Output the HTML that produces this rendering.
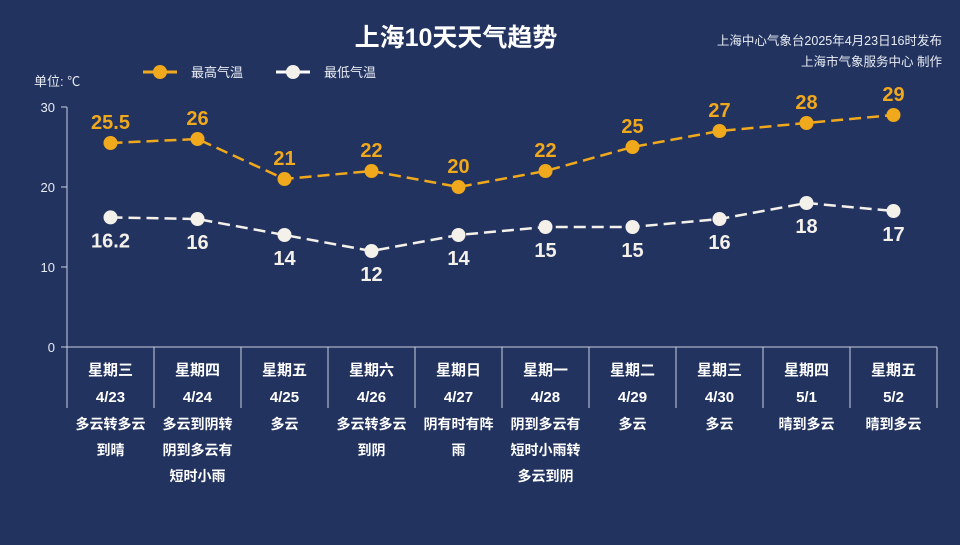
<!DOCTYPE html>
<html><head><meta charset="utf-8">
<style>
body{margin:0;width:960px;height:545px;overflow:hidden;background:#22335f;font-family:"Liberation Sans","Noto Sans CJK SC",sans-serif;}
svg{display:block}
</style></head><body>
<svg id="c" width="960" height="545" xmlns="http://www.w3.org/2000/svg">
<rect width="960" height="545" fill="#22335f"/>
<text x="456" y="46" text-anchor="middle" font-size="25" font-weight="bold" fill="#fff" font-family="Liberation Sans,Noto Sans CJK SC,sans-serif">上海10天天气趋势</text>
<text x="942" y="45" text-anchor="end" font-size="12.5" fill="#e8ecf4" font-family="Liberation Sans,Noto Sans CJK SC,sans-serif">上海中心气象台2025年4月23日16时发布</text>
<text x="942" y="66" text-anchor="end" font-size="12.5" fill="#e8ecf4" font-family="Liberation Sans,Noto Sans CJK SC,sans-serif">上海市气象服务中心 制作</text>
<g>
<line x1="143" y1="72" x2="177" y2="72" stroke="#f0a81c" stroke-width="3"/><circle cx="160" cy="72" r="7" fill="#f0a81c"/>
<text x="191" y="77" font-size="13" fill="#e8ecf4" font-family="Liberation Sans,Noto Sans CJK SC,sans-serif">最高气温</text></g>
<g>
<line x1="276" y1="72" x2="310" y2="72" stroke="#fff" stroke-width="3"/><circle cx="293" cy="72" r="7" fill="#f4f0ea"/>
<text x="324" y="77" font-size="13" fill="#e8ecf4" font-family="Liberation Sans,Noto Sans CJK SC,sans-serif">最低气温</text></g>
<text x="34" y="86" font-size="13" fill="#e8ecf4" font-family="Liberation Sans,Noto Sans CJK SC,sans-serif">单位: ℃</text>
<g id="axes"></g><g id="marks"></g>
</svg>
<script>
const days=["星期三","星期四","星期五","星期六","星期日","星期一","星期二","星期三","星期四","星期五"];
const dates=["4/23","4/24","4/25","4/26","4/27","4/28","4/29","4/30","5/1","5/2"];
const weather=[["多云转多云","到晴"],["多云到阴转","阴到多云有","短时小雨"],["多云"],["多云转多云","到阴"],["阴有时有阵","雨"],["阴到多云有","短时小雨转","多云到阴"],["多云"],["多云"],["晴到多云"],["晴到多云"]];
const highs=[25.5,26,21,22,20,22,25,27,28,29];
const lows=[16.2,16,14,12,14,15,15,16,18,17];
const yTicks=[0,10,20,30];
const NS="http://www.w3.org/2000/svg";
const x0=67,colW=87,yTop=107,yBot=347,yMax=30;
const X=i=>x0+colW*(i+0.5);
const Y=v=>yBot-(v/yMax)*(yBot-yTop);
const F="Liberation Sans,Noto Sans CJK SC,sans-serif";
function mk(tag,attrs,parent,txt){const e=document.createElementNS(NS,tag);for(const k in attrs)e.setAttribute(k,attrs[k]);if(txt!==undefined)e.textContent=txt;parent.appendChild(e);return e;}
const ax=document.getElementById('axes'),mg=document.getElementById('marks');
let e=mk('line',{x1:x0,y1:yTop,x2:x0,y2:yBot,stroke:'#c8cfdf','stroke-width':1},ax);


e=mk('line',{x1:x0,y1:yBot,x2:x0+colW*days.length,y2:yBot,stroke:'#c8cfdf','stroke-width':1},ax);


yTicks.forEach(t=>{
 mk('line',{x1:x0-6,y1:Y(t),x2:x0,y2:Y(t),stroke:'#c8cfdf'},ax);
 e=mk('text',{x:x0-12,y:Y(t)+5,'text-anchor':'end','font-size':13,fill:'#e8ecf4','font-family':F},ax,String(t));
 
 
});
for(let i=0;i<=days.length;i++){mk('line',{x1:x0+colW*i,y1:yBot,x2:x0+colW*i,y2:408,stroke:'#c8cfdf'},ax);}
days.forEach((d,i)=>{
 e=mk('text',{x:X(i),y:375,'text-anchor':'middle','font-size':15,'font-weight':'bold',fill:'#fff','font-family':F},ax,d);
 
 
 e=mk('text',{x:X(i),y:402,'text-anchor':'middle','font-size':15,'font-weight':'bold',fill:'#fff','font-family':F},ax,dates[i]);
 
 
 weather[i].forEach((w,j)=>{
  e=mk('text',{x:X(i),y:429+j*26,'text-anchor':'middle','font-size':14,'font-weight':'bold',fill:'#fff','font-family':F},ax,w);
  
  
 });
});
function series(vals,color,fill,name,above){
 const pts=vals.map((v,i)=>X(i)+','+Y(v)).join(' ');
 let p=mk('polyline',{points:pts,fill:'none',stroke:color,'stroke-width':2.5,'stroke-dasharray':'12,6'},mg);
 
 
 vals.forEach((v,i)=>{
  let c=mk('circle',{cx:X(i),cy:Y(v),r:7,fill:fill},mg);
  
  
  let t=mk('text',{x:X(i),y:above?Y(v)-14:Y(v)+30,'text-anchor':'middle','font-size':20,'font-weight':'bold',fill:color,'font-family':F},mg,String(v));
  
  
 });
}
series(highs,'#f0a81c','#f0a81c','high-temp',true);
series(lows,'#f4f0ea','#f4f0ea','low-temp',false);
</script>
</body></html>
